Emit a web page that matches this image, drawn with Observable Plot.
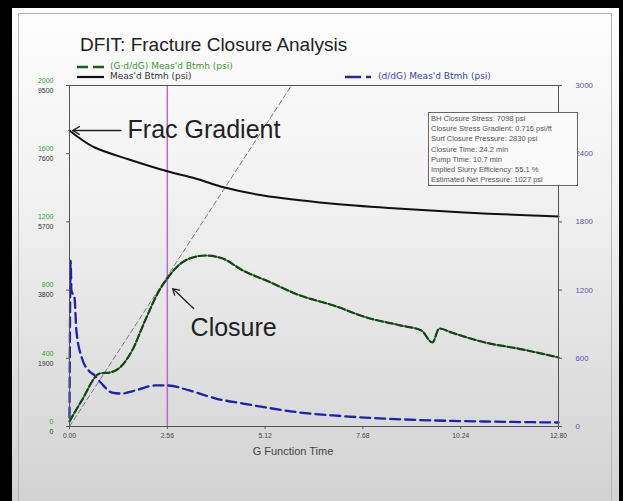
<!DOCTYPE html>
<html><head><meta charset="utf-8">
<script src="https://cdn.jsdelivr.net/npm/d3@7"></script>
<script src="https://cdn.jsdelivr.net/npm/@observablehq/plot@0.6"></script>
<style>
html,body{margin:0;padding:0;background:#000;width:623px;height:501px;overflow:hidden;font-family:"Liberation Sans",Arial,sans-serif;}
#panel{position:absolute;left:12px;top:8px;width:607px;height:493px;background:linear-gradient(#fdfdfd,#f3f3f3 35%,#d2d2d2);}
#border{position:absolute;left:18px;top:13px;width:594px;height:495px;border:1px solid #b4b4b4;box-sizing:border-box;}
#chart{position:absolute;left:0;top:0;}
#title{position:absolute;left:80px;top:34px;font-size:19px;color:#222;white-space:nowrap;line-height:22px;}
.leg{position:absolute;font-family:"DejaVu Sans",sans-serif;font-size:9px;white-space:nowrap;line-height:9px;height:9px;}
.leg svg{vertical-align:middle;margin-right:6px;}
#info{position:absolute;left:428px;top:112px;width:150px;height:74px;border:1px solid #666;background:#fafafa;box-sizing:border-box;padding:1px 0 0 2px;font-size:7.5px;line-height:10.2px;color:#555;white-space:nowrap;overflow:hidden;}
#xlab{position:absolute;left:0;width:586px;text-align:center;top:445px;font-size:11px;color:#444;}
</style></head>
<body>
<div id="panel"></div>
<div id="border"></div>
<div id="chart"></div>
<div id="title">DFIT: Fracture Closure Analysis</div>
<div class="leg" style="left:77px;top:62px;color:#3a9a3a"><svg width="27" height="6"><line x1="0" y1="3" x2="27" y2="3" stroke="#1f5a1f" stroke-width="2.5" stroke-dasharray="11,5"/></svg>(G·d/dG) Meas'd Btmh (psi)</div>
<div class="leg" style="left:77px;top:72px;color:#333"><svg width="27" height="6"><line x1="0" y1="3" x2="27" y2="3" stroke="#111" stroke-width="2.2"/></svg>Meas'd Btmh (psi)</div>
<div class="leg" style="left:345px;top:72px;color:#4040c0"><svg width="27" height="6"><line x1="0" y1="3" x2="27" y2="3" stroke="#2a2a9a" stroke-width="2.5" stroke-dasharray="16,5,5,5"/></svg>(d/dG) Meas'd Btmh (psi)</div>
<div id="info">BH Closure Stress: 7098 psi<br>Closure Stress Gradient: 0.716 psi/ft<br>Surf Closure Pressure: 2830 psi<br>Closure Time: 24.2 min<br>Pump Time: 10.7 min<br>Implied Slurry Efficiency: 55.1 %<br>Estimated Net Pressure: 1027 psi</div>
<div id="xlab">G Function Time</div>
<script>
// ---- data ----
const greenG = [0, 0.32, 0.79, 1.06, 1.32, 1.64, 1.98, 2.35, 2.56, 2.77, 3.14, 3.56, 4.01, 4.54, 5.15, 6.04, 6.91, 7.78, 8.68, 9.21, 9.50, 9.68, 10.00, 10.87, 11.74, 12.8];
const greenV = [30, 152, 311, 317, 346, 446, 622, 798, 868, 927, 985, 1003, 985, 915, 856, 768, 710, 639, 592, 563, 493, 575, 551, 493, 457, 405];

const blackG = [0, 0.24, 0.66, 1.56, 2.56, 3.30, 4.06, 5.07, 6.84, 8.58, 10.34, 12.11, 12.8];
const blackV = [8247, 8052, 7773, 7439, 7110, 6909, 6659, 6436, 6213, 6073, 5962, 5878, 5851];

const blueG = [0, 0.03, 0.05, 0.13, 0.18, 0.32, 0.50, 0.66, 0.84, 1.11, 1.37, 1.72, 2.24, 2.56, 3.14, 3.83, 4.54, 5.15, 6.04, 6.91, 8.23, 9.55, 10.87, 12.8];
const blueV = [80, 1460, 1197, 1135, 845, 607, 493, 449, 378, 299, 290, 317, 361, 361, 317, 246, 202, 167, 123, 97, 70, 53, 44, 35];

const tangentG = [0, 5.81];
const tangentV = [0, 2000];
const closureG = 2.56;

const xTicks = [0, 2.56, 5.12, 7.68, 10.24, 12.8];
const leftGreenTicks = [0, 400, 800, 1200, 1600, 2000];
const leftBlackTicks = [0, 1900, 3800, 5700, 7600, 9500];
const rightTicks = [0, 600, 1200, 1800, 2400, 3000];

// scale factors onto the green (0–2000) axis
const blackToGreen = 2000 / 9500;
const blueToGreen = 2000 / 3000;

const green = greenG.map((g, i) => ({g, v: greenV[i]}));
const black = blackG.map((g, i) => ({g, v: blackV[i] * blackToGreen}));
const blue = blueG.map((g, i) => ({g, v: blueV[i] * blueToGreen}));
const tangent = tangentG.map((g, i) => ({g, v: tangentV[i]}));

const fracAnno = [{x1: 1.35, x2: 0.08, y: blackV[0] * blackToGreen, tx: 1.52, text: "Frac Gradient"}];
const closureAnno = [{x1: 3.25, y1: 692, x2: 2.70, y2: 809, tx: 3.17, ty: 575, text: "Closure"}];

const font = "Liberation Sans, Arial, sans-serif";

const chart = Plot.plot({
  width: 623, height: 501,
  marginLeft: 69, marginRight: 65, marginTop: 85, marginBottom: 75,
  style: {background: "transparent", fontFamily: font},
  x: {domain: [0, 12.8], axis: null},
  y: {domain: [0, 2000], axis: null},
  marks: [
    Plot.ruleX([closureG], {stroke: "#b36fc4", strokeWidth: 1.5}),
    Plot.line(tangent, {x: "g", y: "v", stroke: "#7a7a7a", strokeWidth: 1, strokeDasharray: "5,3"}),
    Plot.line(blue, {x: "g", y: "v", curve: "monotone-x", stroke: "#2020b0", strokeWidth: 2.3, strokeDasharray: "10,5"}),
    Plot.line(green, {x: "g", y: "v", curve: "monotone-x", stroke: "#3f9f3f", strokeWidth: 1.6}),
    Plot.line(green, {x: "g", y: "v", curve: "monotone-x", stroke: "#1d401d", strokeWidth: 2.2, strokeDasharray: "7,3"}),
    Plot.line(black, {x: "g", y: "v", curve: "catmull-rom", stroke: "#111", strokeWidth: 2}),
    Plot.frame({stroke: "#555", strokeWidth: 1}),
    // axes
    Plot.axisX({ticks: xTicks, tickFormat: d => d.toFixed(2), tickSize: 3, tickPadding: 4, fontSize: 6.8, color: "#444", fill: "#444", stroke: "#555"}),
    Plot.axisY({anchor: "left", ticks: leftGreenTicks, tickFormat: () => "", tickSize: 3, stroke: "#555"}),
    Plot.axisY({anchor: "left", ticks: leftGreenTicks, tickFormat: d => String(d), tickSize: 0, tickPadding: 16, dy: -5, fontSize: 7, color: "#3a9a3a", fill: "#3a9a3a"}),
    Plot.axisY({anchor: "left", ticks: leftGreenTicks, tickFormat: d => String(leftBlackTicks[leftGreenTicks.indexOf(d)]), tickSize: 0, tickPadding: 16, dy: 5, fontSize: 7, color: "#333", fill: "#333"}),
    Plot.axisY({anchor: "right", ticks: leftGreenTicks, tickFormat: () => "", tickSize: 3, stroke: "#555"}),
    Plot.axisY({anchor: "right", ticks: leftGreenTicks, tickFormat: d => String(rightTicks[leftGreenTicks.indexOf(d)]), tickSize: 0, tickPadding: 17, fontSize: 7.8, color: "#5454b4", fill: "#5454b4"}),
    // annotations
    Plot.arrow(fracAnno, {x1: "x1", y1: "y", x2: "x2", y2: "y", stroke: "#222", strokeWidth: 1.3, headLength: 9}),
    Plot.text(fracAnno, {x: "tx", y: "y", text: "text", textAnchor: "start", fontSize: 25, fill: "#222", fontFamily: font}),
    Plot.arrow(closureAnno, {x1: "x1", y1: "y1", x2: "x2", y2: "y2", stroke: "#222", strokeWidth: 1.3, headLength: 8}),
    Plot.text(closureAnno, {x: "tx", y: "ty", text: "text", textAnchor: "start", fontSize: 25, fill: "#222", fontFamily: font})
  ]
});
document.getElementById("chart").appendChild(chart);
</script>
</body></html>
